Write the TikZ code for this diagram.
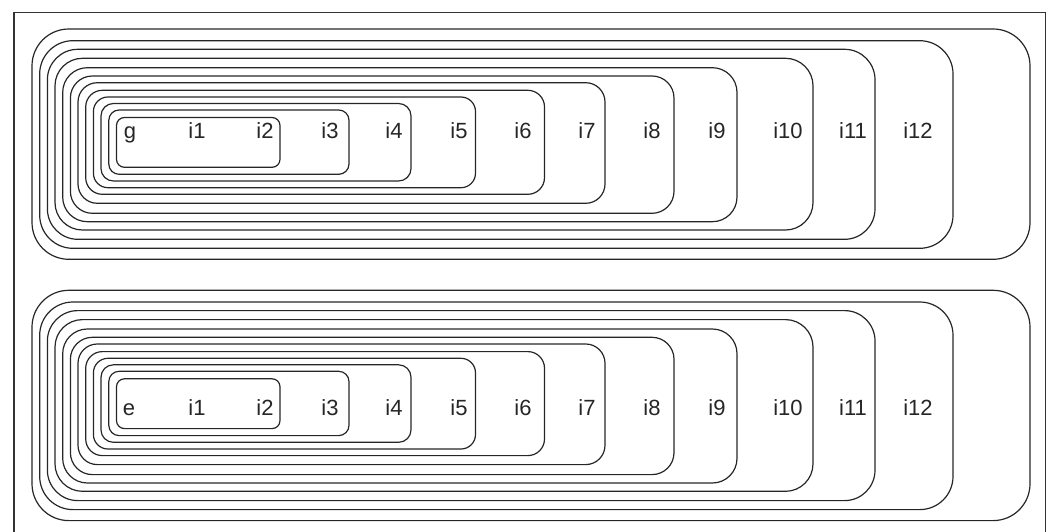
\documentclass[tikz,border=0pt]{standalone}
\usepackage{fontspec}
\setmainfont{Liberation Sans}
\begin{document}
\begin{tikzpicture}[x=1pt,y=-1pt,
  box/.style={draw=black!85, line width=1.2pt},
  frame/.style={draw=black!80, line width=1.8pt},
  lbl/.style={font=\fontsize{22}{26}\selectfont, inner sep=0pt, anchor=base, text=black!85}]
\useasboundingbox (0,0) rectangle (1051,532);
\draw[frame] (14,545) -- (14,12.5) -- (1045.5,12.5) -- (1045.5,545);
% boxes: left/top/right/bottom (top group), bottom group shifted by 261.3
\foreach \off in {0,261.3}{
  \foreach \l/\t/\r/\b in {116.5/117.5/280/167.3, 108.8/110/349/174.3, 101/103.5/411/181,
      93.4/97/475.5/187.7, 85.7/90.3/544.5/194.3, 78/82.7/605/203.3, 70.4/76/674/213.3,
      62.7/67.7/737/221.7, 55/58.3/813/230, 47.4/49.3/875/239.3, 39.7/40.7/953/248.3,
      32/29/1030/259.3}{
    \pgfmathsetmacro\rr{0.16*(\b-\t)}
    \draw[box, rounded corners=\rr pt] (\l,\t+\off) rectangle (\r,\b+\off);
  }
}
% labels top group
\node[lbl] (g) at (130,138) {g};
\node[lbl] (ta1) at (197,138) {i1};
\node[lbl] (ta2) at (265,138) {i2};
\node[lbl] (ta3) at (330,138) {i3};
\node[lbl] (ta4) at (394,138) {i4};
\node[lbl] (ta5) at (459,138) {i5};
\node[lbl] (ta6) at (523,138) {i6};
\node[lbl] (ta7) at (587,138) {i7};
\node[lbl] (ta8) at (652,138) {i8};
\node[lbl] (ta9) at (717,138) {i9};
\node[lbl] (ta10) at (788,138) {i10};
\node[lbl] (ta11) at (853,138) {i11};
\node[lbl] (ta12) at (918,138) {i12};
% labels bottom group
\node[lbl] (e) at (129,415.5) {e};
\node[lbl] (tb1) at (197,415.5) {i1};
\node[lbl] (tb2) at (265,415.5) {i2};
\node[lbl] (tb3) at (330,415.5) {i3};
\node[lbl] (tb4) at (394,415.5) {i4};
\node[lbl] (tb5) at (459,415.5) {i5};
\node[lbl] (tb6) at (523,415.5) {i6};
\node[lbl] (tb7) at (587,415.5) {i7};
\node[lbl] (tb8) at (652,415.5) {i8};
\node[lbl] (tb9) at (717,415.5) {i9};
\node[lbl] (tb10) at (788,415.5) {i10};
\node[lbl] (tb11) at (853,415.5) {i11};
\node[lbl] (tb12) at (918,415.5) {i12};
\end{tikzpicture}
\end{document}
